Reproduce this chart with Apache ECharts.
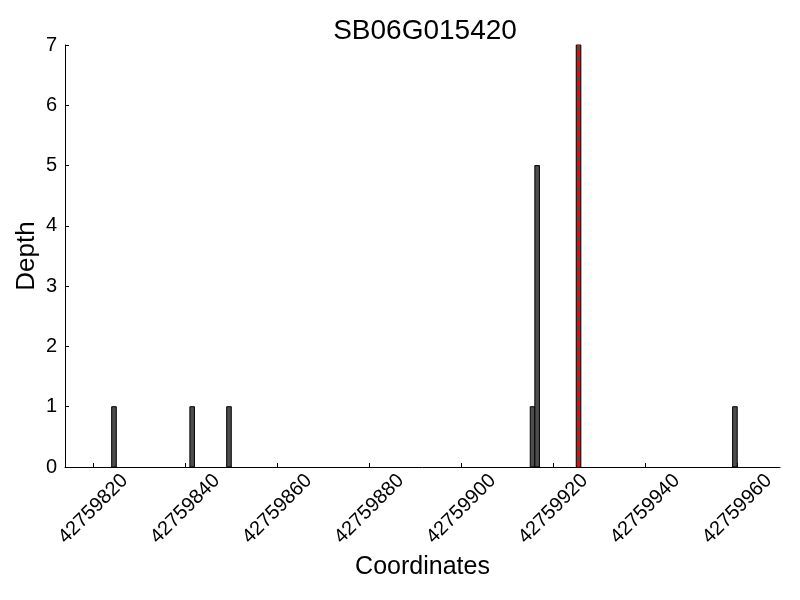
<!DOCTYPE html>
<html>
<head>
<meta charset="utf-8">
<script src="https://cdn.jsdelivr.net/npm/echarts@6/dist/echarts.min.js"></script>
<style>html,body{margin:0;padding:0;background:#fff}#c{width:800px;height:600px}</style>
</head>
<body>
<div id="c"></div>
<script>
const titleText = "SB06G015420";
const positions = [42759824, 42759841, 42759849, 42759915, 42759916, 42759925, 42759959];
const depths = [1, 1, 1, 1, 5, 7, 1];
const xTicks = [42759820, 42759840, 42759860, 42759880, 42759900, 42759920, 42759940, 42759960];
const yTicks = [0, 1, 2, 3, 4, 5, 6, 7];
const markerX = 42759925.5;

const FONT = '"Liberation Sans", Arial, sans-serif';
const chart = echarts.init(document.getElementById('c'), null, {renderer: 'canvas'});
chart.setOption({
  animation: false,
  backgroundColor: '#fff',
  title: {
    text: titleText, left: 420, top: 12, textAlign: 'center',
    textStyle: {fontFamily: FONT, fontSize: 28, fontWeight: 'normal', color: '#000'}
  },
  grid: {left: 65, right: 20, top: 45, bottom: 133, containLabel: false},
  xAxis: {
    type: 'value', min: 42759813.85, max: 42759969.3,
    name: 'Coordinates', nameLocation: 'middle', nameGap: 88, nameMoveOverlap: false,
    nameTextStyle: {fontFamily: FONT, fontSize: 25, color: '#000'},
    axisLine: {show: true, onZero: false, lineStyle: {color: '#000', width: 1}},
    axisTick: {show: true, inside: true, length: 4, customValues: xTicks, lineStyle: {color: '#000'}},
    axisLabel: {
      customValues: xTicks, rotate: 45, align: 'center', verticalAlign: 'middle', margin: 42,
      fontFamily: FONT, fontSize: 20, color: '#000',
      formatter: v => String(Math.round(v))
    },
    splitLine: {show: false}
  },
  yAxis: {
    type: 'value', min: 0, max: 7, interval: 1,
    name: 'Depth', nameLocation: 'middle', nameGap: 25, nameMoveOverlap: false,
    nameTextStyle: {fontFamily: FONT, fontSize: 26, color: '#000'},
    axisLine: {show: true, lineStyle: {color: '#000', width: 1}},
    axisTick: {show: true, inside: true, length: 4, lineStyle: {color: '#000'}},
    axisLabel: {margin: 8, fontFamily: FONT, fontSize: 20, color: '#000',
      formatter: v => yTicks.includes(v) ? String(v) : ''},
    splitLine: {show: false}
  },
  series: [
    {
      type: 'custom',
      data: positions.map((p, i) => [p, depths[i]]),
      renderItem: function (params, api) {
        const x = api.value(0), y = api.value(1);
        const p0 = api.coord([x, 0]);
        const p1 = api.coord([x + 1, y]);
        return {
          type: 'rect',
          shape: {x: p0[0], y: p1[1], width: p1[0] - p0[0], height: p0[1] - p1[1]},
          style: {fill: '#4d4d4d', stroke: '#000', lineWidth: 1}
        };
      },
      z: 2
    },
    {
      type: 'line',
      data: [[markerX, 0], [markerX, 7]],
      symbol: 'none',
      lineStyle: {color: '#ff0000', width: 2.5, type: [7, 3]},
      z: 5
    }
  ]
});
</script>
</body>
</html>
